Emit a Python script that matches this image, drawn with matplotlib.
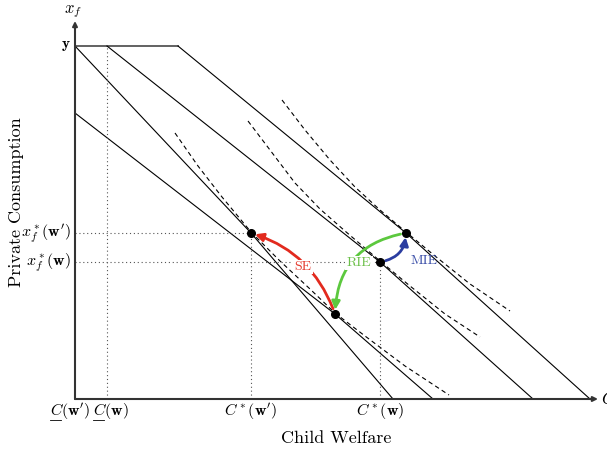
import matplotlib
matplotlib.use('Agg')
import matplotlib.pyplot as plt
from matplotlib.patches import FancyArrowPatch

plt.rcParams['mathtext.fontset'] = 'cm'
plt.rcParams['font.family'] = 'cmr10'
plt.rcParams['axes.unicode_minus'] = False

# budget lines (child welfare, private consumption)
income = 353
top_segment = [0, 103]
budget_w_prime = [(0, 353), (176, 166), (318, 0)]
budget_comp = [(0, 286), (260, 85), (358, 0)]
budget_w = [(32, 353), (305, 137), (458, 0)]
budget_new = [(103, 353), (331, 166), (515, 0)]

# indifference curves (dashed)
indiff_low = [(100, 266), (123, 233), (147, 202), (176, 167), (205, 138),
              (235, 110), (260, 86), (290, 63), (330, 33), (374, 4)]
indiff_mid = [(173, 278), (195, 249), (220, 216), (245, 190), (270, 168),
              (305, 138), (335, 113), (370, 85), (405, 62)]
indiff_high = [(207, 299), (230, 269), (255, 239), (280, 212), (305, 189),
               (331, 167), (360, 143), (395, 115), (435, 88)]

# optimal bundles
opt_old = (176, 166)
opt_comp = (260, 85)
opt_w = (305, 137)
opt_new = (331, 166)
c_min_w = 32

fig = plt.figure(figsize=(6.07, 4.5), dpi=100)
ax = fig.add_axes([0, 0, 1, 1])
ax.set_xlim(-75, 532)
ax.set_ylim(-51, 399)
ax.axis('off')

# axes with arrows
ax.annotate('', xy=(523, 0), xytext=(0, 0),
            arrowprops=dict(arrowstyle='-|>', lw=1.5, color='#333333',
                            mutation_scale=7, shrinkA=0, shrinkB=0))
ax.annotate('', xy=(0, 378), xytext=(0, 0),
            arrowprops=dict(arrowstyle='-|>', lw=1.5, color='#333333',
                            mutation_scale=7, shrinkA=0, shrinkB=0))

# budget lines
ax.plot(top_segment, [income, income], color='#555555', lw=1.3)
for line in [budget_w_prime, budget_comp, budget_w, budget_new]:
    xs = [p[0] for p in line]
    ys = [p[1] for p in line]
    ax.plot(xs, ys, color='black', lw=0.8)

# indifference curves
for curve in [indiff_low, indiff_mid, indiff_high]:
    xs = [p[0] for p in curve]
    ys = [p[1] for p in curve]
    ax.plot(xs, ys, color='black', lw=0.8, dashes=(4, 3))

# dotted guides
dot = dict(color='#555555', lw=0.8, linestyle=(0, (1, 2.5)))
ax.plot([c_min_w, c_min_w], [0, income], **dot)
ax.plot([opt_old[0], opt_old[0]], [0, opt_old[1]], **dot)
ax.plot([opt_w[0], opt_w[0]], [0, opt_w[1]], **dot)
ax.plot([0, opt_old[0]], [opt_old[1], opt_old[1]], **dot)
ax.plot([0, opt_w[0]], [opt_w[1], opt_w[1]], **dot)

# effect arrows
arrows = [(opt_comp, opt_old, 0.25, '#e22a1e'),
          (opt_new, opt_comp, 0.4, '#5cc83e'),
          (opt_w, opt_new, 0.4, '#2b3da0')]
for a, b, rad, col in arrows:
    ax.add_patch(FancyArrowPatch(a, b, connectionstyle='arc3,rad=%s' % rad,
                                 arrowstyle='-|>', mutation_scale=12, lw=2,
                                 color=col, shrinkA=4, shrinkB=3, zorder=3))

box = dict(facecolor='white', edgecolor='none', pad=1)
ax.text(228, 132, 'SE', color='#e53a2e', fontsize=10, ha='center', va='center', bbox=box, zorder=4)
ax.text(284, 136, 'RIE', color='#6cc04a', fontsize=10, ha='center', va='center', bbox=box, zorder=4)
ax.text(349, 138, 'MIE', color='#3a4ea8', fontsize=10, ha='center', va='center', zorder=4)

# points
pts = [opt_old, opt_comp, opt_w, opt_new]
ax.plot([p[0] for p in pts], [p[1] for p in pts], 'o', color='black', ms=5.5, zorder=5)

# labels
ax.text(-2, 387, r'$x_f$', fontsize=12, ha='center', va='center')
ax.text(-9, 353, r'$\mathbf{y}$', fontsize=11, ha='center', va='center')
ax.text(-4, opt_old[1], r"$x_f^*(\mathbf{w}')$", fontsize=11.5, ha='right', va='center')
ax.text(-4, opt_w[1], r'$x_f^*(\mathbf{w})$', fontsize=11.5, ha='right', va='center')
ax.text(opt_old[0], -12, r"$C^*(\mathbf{w}')$", fontsize=11.5, ha='center', va='center')
ax.text(opt_w[0], -12, r'$C^*(\mathbf{w})$', fontsize=11.5, ha='center', va='center')
ax.text(-5, -12, r"$C(\mathbf{w}')$", fontsize=11.5, ha='center', va='center')
ax.text(36, -12, r'$C(\mathbf{w})$', fontsize=11.5, ha='center', va='center')
ax.plot([-25, -14], [-20.5, -20.5], color='black', lw=0.6)
ax.plot([18, 29], [-20.5, -20.5], color='black', lw=0.6)
ax.text(526, 0, r'$C$', fontsize=12, ha='left', va='center')
ax.text(261, -39, 'Child Welfare', fontsize=13, ha='center', va='center')
ax.text(-59, 197, 'Private Consumption', fontsize=13, rotation=90, ha='center', va='center')

fig.savefig('out.png', dpi=100)
